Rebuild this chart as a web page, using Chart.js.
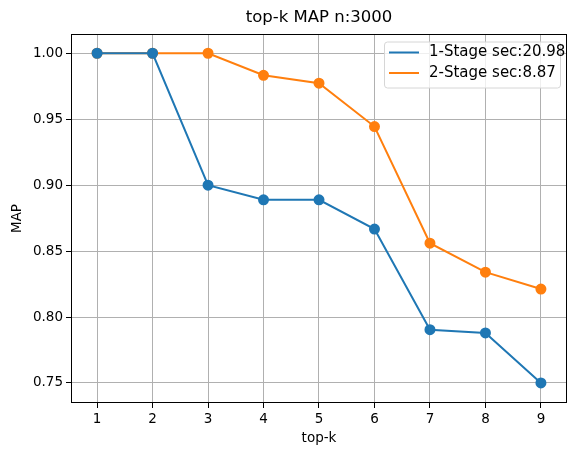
<!DOCTYPE html>
<html>
<head>
<meta charset="utf-8">
<script src="https://cdn.jsdelivr.net/npm/chart.js@4"></script>
<style>
  html, body { margin: 0; padding: 0; background: #fff; }
</style>
</head>
<body>
<canvas id="grafico" width="581" height="456"></canvas>
<script>
const topK = [1, 2, 3, 4, 5, 6, 7, 8, 9];
const oneStage = [1.0, 1.0, 0.9, 0.8889, 0.8889, 0.8667, 0.7904, 0.7879, 0.75];
const twoStage = [1.0, 1.0, 1.0, 0.9833, 0.9773, 0.9444, 0.856, 0.834, 0.8212];
const yTicks = [0.75, 0.80, 0.85, 0.90, 0.95, 1.00];
const xTicks = topK;

const FONT = "'DejaVu Sans', sans-serif";

// title, axis labels, frame and legend drawn like matplotlib
const mplExtras = {
    id: 'mplExtras',
    afterDraw(chart) {
        const c = chart.ctx;
        const a = chart.chartArea;
        c.save();
        c.strokeStyle = '#000';
        c.lineWidth = 1;
        c.strokeRect(a.left + 0.5, a.top + 0.5, a.right - a.left - 1, a.bottom - a.top - 1);

        c.fillStyle = '#000';
        c.textAlign = 'center';
        c.textBaseline = 'middle';
        c.font = '16.5px ' + FONT;
        c.fillText('top-k MAP n:3000', (a.left + a.right) / 2, 18);
        c.font = '13.5px ' + FONT;
        c.fillText('top-k', (a.left + a.right) / 2, 438);
        c.translate(17, (a.top + a.bottom) / 2);
        c.rotate(-Math.PI / 2);
        c.fillText('MAP', 0, 0);
        c.restore();

        // legend
        c.save();
        const bx = 384, by = 41.5, bw = 176, bh = 46;
        c.beginPath();
        c.roundRect(bx + 0.5, by + 0.5, bw, bh, 3);
        c.fillStyle = 'rgba(255,255,255,0.8)';
        c.fill();
        c.strokeStyle = '#d6d6d6';
        c.lineWidth = 1;
        c.stroke();
        c.font = '15px ' + FONT;
        c.textAlign = 'left';
        c.textBaseline = 'middle';
        chart.data.datasets.forEach((ds, i) => {
            const y = 52.5 + i * 20.5;
            c.strokeStyle = ds.borderColor;
            c.lineWidth = 2;
            c.beginPath();
            c.moveTo(389, y);
            c.lineTo(419, y);
            c.stroke();
            c.fillStyle = '#000';
            c.fillText(ds.label, 429, y);
        });
        c.restore();
    }
};

new Chart(document.getElementById('grafico'), {
    type: 'line',
    data: {
        datasets: [
            {
                label: '1-Stage sec:20.98',
                data: topK.map((k, i) => ({ x: k, y: oneStage[i] })),
                borderColor: '#1f77b4',
                backgroundColor: '#1f77b4',
                borderWidth: 2,
                pointRadius: 4.5,
                pointHoverRadius: 4.5,
                tension: 0
            },
            {
                label: '2-Stage sec:8.87',
                data: topK.map((k, i) => ({ x: k, y: twoStage[i] })),
                borderColor: '#ff7f0e',
                backgroundColor: '#ff7f0e',
                borderWidth: 2,
                pointRadius: 4.5,
                pointHoverRadius: 4.5,
                tension: 0
            }
        ]
    },
    options: {
        responsive: false,
        animation: false,
        layout: { padding: { left: 0, top: 34, right: 14, bottom: 0 } },
        plugins: {
            legend: { display: false },
            title: { display: false },
            tooltip: { enabled: false }
        },
        scales: {
            x: {
                type: 'linear',
                min: 0.53,
                max: 9.47,
                afterBuildTicks: s => { s.ticks = xTicks.map(v => ({ value: v })); },
                afterFit: s => { s.height = 53; },
                border: { display: false },
                grid: { color: '#b0b0b0', lineWidth: 1, tickColor: '#000', tickLength: 5 },
                ticks: { color: '#000', font: { family: FONT, size: 13.5 }, padding: 3, maxRotation: 0 }
            },
            y: {
                min: 0.7348,
                max: 1.0146,
                afterBuildTicks: s => { s.ticks = yTicks.map(v => ({ value: v })); },
                afterFit: s => { s.width = 71; },
                border: { display: false },
                grid: { color: '#b0b0b0', lineWidth: 1, tickColor: '#000', tickLength: 5 },
                ticks: {
                    color: '#000',
                    font: { family: FONT, size: 13.5 },
                    padding: 3,
                    callback: v => v.toFixed(2)
                }
            }
        }
    },
    plugins: [mplExtras]
});
</script>
</body>
</html>
